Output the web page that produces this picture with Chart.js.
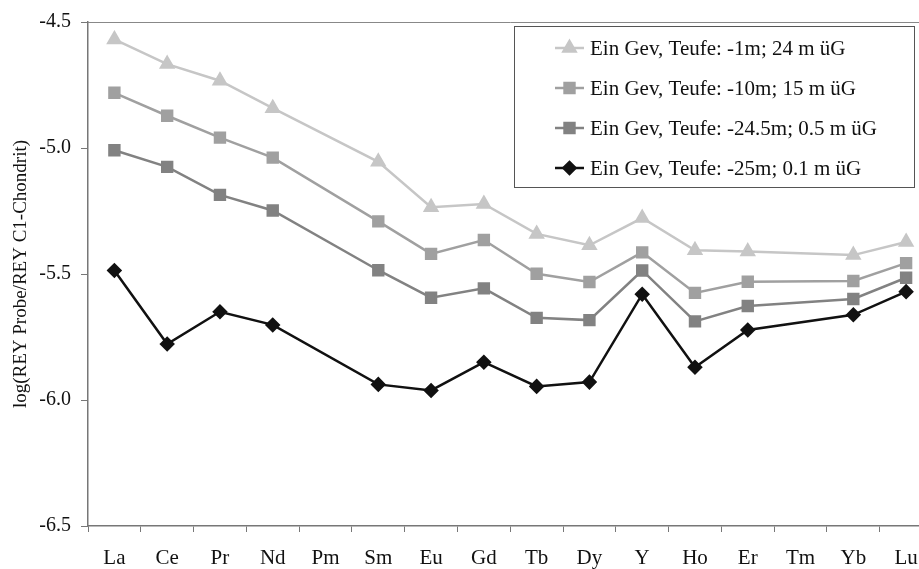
<!DOCTYPE html>
<html>
<head>
<meta charset="utf-8">
<script src="https://cdn.jsdelivr.net/npm/chart.js@4.4.1/dist/chart.umd.min.js"></script>
<style>
  html, body { margin: 0; padding: 0; background: #fff; overflow: hidden; }
  #wrap { width: 942px; height: 569px; }
</style>
</head>
<body>
<div id="wrap"><canvas id="reyChart" width="942" height="569"></canvas></div>
<script>
const elements = ['La', 'Ce', 'Pr', 'Nd', 'Pm', 'Sm', 'Eu', 'Gd', 'Tb', 'Dy', 'Y', 'Ho', 'Er', 'Tm', 'Yb', 'Lu'];
const yTicks = [-6.5, -6.0, -5.5, -5.0, -4.5];

const seriesNames = [
    'Ein Gev, Teufe: -1m; 24 m üG',
    'Ein Gev, Teufe: -10m; 15 m üG',
    'Ein Gev, Teufe: -24.5m; 0.5 m üG',
    'Ein Gev, Teufe: -25m; 0.1 m üG'
];
const depth1m   = [-4.569, -4.667, -4.733, -4.842, null, -5.055, -5.235, -5.222, -5.341, -5.386, -5.278, -5.406, -5.411, null, -5.425, -5.373];
const depth10m  = [-4.781, -4.872, -4.959, -5.038, null, -5.291, -5.420, -5.365, -5.499, -5.532, -5.414, -5.575, -5.531, null, -5.528, -5.457];
const depth245m = [-5.009, -5.075, -5.186, -5.248, null, -5.485, -5.594, -5.557, -5.674, -5.683, -5.486, -5.688, -5.627, null, -5.599, -5.515];
const depth25m  = [-5.486, -5.778, -5.650, -5.702, null, -5.938, -5.962, -5.850, -5.946, -5.929, -5.580, -5.870, -5.722, null, -5.662, -5.570];

const serif = "'Liberation Serif', 'Times New Roman', serif";

function makeSet(label, data, color, style, radius) {
    return {
        label: label,
        data: data,
        borderColor: color,
        backgroundColor: color,
        pointBackgroundColor: color,
        pointBorderColor: color,
        pointStyle: style,
        pointRadius: radius,
        pointHoverRadius: radius,
        borderWidth: 2.5,
        tension: 0,
        spanGaps: true
    };
}

// legend box drawn inside the plot, like the original
const boxLegend = {
    id: 'boxLegend',
    afterDraw(chart) {
        const ctx = chart.ctx;
        const a = chart.chartArea;
        ctx.save();
        // top frame line of the plot area
        ctx.strokeStyle = '#888';
        ctx.lineWidth = 1;
        ctx.beginPath();
        ctx.moveTo(a.left, a.top + 0.5);
        ctx.lineTo(a.right, a.top + 0.5);
        ctx.stroke();

        const bx = 514.5, by = 26.5, bw = 400, bh = 161;
        ctx.fillStyle = '#fff';
        ctx.fillRect(bx, by, bw, bh);
        ctx.strokeStyle = '#555';
        ctx.strokeRect(bx, by, bw, bh);

        ctx.font = '21px ' + serif;
        ctx.textBaseline = 'middle';
        chart.data.datasets.forEach((ds, i) => {
            const y = 48 + i * 40;
            ctx.strokeStyle = ds.borderColor;
            ctx.lineWidth = ds.borderWidth;
            ctx.beginPath();
            ctx.moveTo(555, y);
            ctx.lineTo(584, y);
            ctx.stroke();
            ctx.fillStyle = ds.backgroundColor;
            Chart.helpers.drawPoint(ctx, {
                pointStyle: ds.pointStyle,
                radius: ds.pointRadius,
                rotation: 0,
                borderWidth: 1
            }, 569.5, y);
            ctx.fillStyle = '#111';
            ctx.fillText(ds.label, 590, y + 1);
        });
        ctx.restore();
    }
};

new Chart(document.getElementById('reyChart'), {
    type: 'line',
    data: {
        labels: elements,
        datasets: [
            makeSet(seriesNames[0], depth1m, '#c6c6c6', 'triangle', 7),
            makeSet(seriesNames[1], depth10m, '#a0a0a0', 'rect', 7),
            makeSet(seriesNames[2], depth245m, '#828282', 'rect', 7),
            makeSet(seriesNames[3], depth25m, '#111111', 'rectRot', 6)
        ]
    },
    options: {
        responsive: false,
        animation: false,
        layout: { padding: { top: 19, left: 0, right: 0, bottom: 0 } },
        plugins: {
            legend: { display: false },
            tooltip: { enabled: false }
        },
        scales: {
            x: {
                offset: true,
                grid: {
                    offset: true,
                    drawOnChartArea: false,
                    drawTicks: true,
                    tickLength: 6,
                    color: '#777'
                },
                border: { display: true, color: '#777', width: 1.5 },
                ticks: {
                    color: '#111',
                    font: { family: serif, size: 21 },
                    padding: 14,
                    maxRotation: 0,
                    autoSkip: false
                },
                afterFit(scale) { scale.height = 43; }
            },
            y: {
                min: -6.5,
                max: -4.5,
                afterBuildTicks(scale) { scale.ticks = yTicks.map(v => ({ value: v })); },
                grid: {
                    drawOnChartArea: false,
                    drawTicks: true,
                    tickLength: 7,
                    color: '#777'
                },
                border: { display: true, color: '#777', width: 1.5 },
                ticks: {
                    color: '#111',
                    font: { family: serif, size: 20 },
                    padding: 10,
                    callback: v => v.toFixed(1)
                },
                title: {
                    display: true,
                    text: 'log(REY Probe/REY C1-Chondrit)',
                    color: '#111',
                    font: { family: serif, size: 19 },
                    padding: { top: 10, bottom: 0 }
                },
                afterFit(scale) { scale.width = 88; }
            }
        }
    },
    plugins: [boxLegend]
});
</script>
</body>
</html>
